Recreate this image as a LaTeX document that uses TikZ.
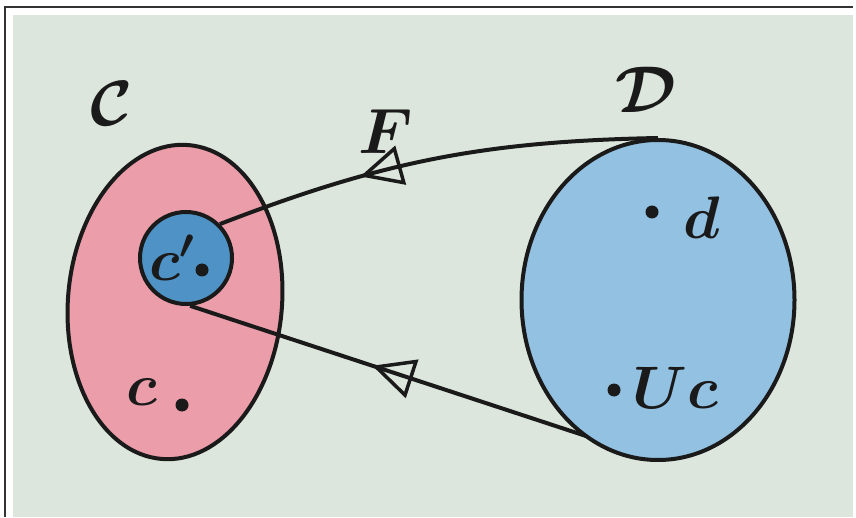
\RequirePackage{fix-cm}
\documentclass[tikz,border=0pt]{standalone}
\usepackage{amsmath}
\usepackage{amssymb}
\usepackage{tikz}
\usetikzlibrary{shapes.geometric, arrows.meta, positioning, decorations.markings, calc}
\definecolor{paper}{HTML}{DDE6DD}
\definecolor{ink}{HTML}{1A1A1A}
\definecolor{frameline}{HTML}{333333}
\definecolor{catpink}{HTML}{EB9DA9}
\definecolor{catblue}{HTML}{93C1E2}
\definecolor{objblue}{HTML}{4E92C6}
\tikzset{
  category/.style={
    ellipse, draw=ink, line width=4pt, inner sep=0pt,
  },
  object/.style={
    circle, draw=ink, line width=4pt, inner sep=0pt,
    minimum size=88pt, fill=objblue,
  },
  elem/.style={
    circle, fill=ink, inner sep=0pt, minimum size=13pt,
  },
  catlabel/.style={font=\fontsize{64}{70}\selectfont\boldmath, text=ink},
  elemlabel/.style={font=\fontsize{60}{66}\selectfont\boldmath, text=ink},
  functor/.style={
    line width=4pt, color=ink,
    decoration={markings,
      mark=at position #1 with {\arrow{Triangle[open, length=42pt, width=40pt, line width=3.5pt]}}},
    postaction={decorate},
  },
}

\begin{document}
\begin{tikzpicture}[x=1pt, y=-1pt]

  % Frame
  \fill[white] (0,0) rectangle (856,517);
  \fill[paper] (13,15) rectangle (853,517);
  \draw[frameline, line width=2pt] (5,517) -- (5,7) -- (853,7);

  % Category C
  \node[category, fill=catpink, minimum width=214pt, minimum height=315pt, rotate=-5] (catC) at (175,302) {};
  \node[catlabel] (labC) at (112,104) {$\mathcal{C}$};

  % Category D
  \node[category, fill=catblue, minimum width=273pt, minimum height=320pt] (catD) at (658,300) {};
  \node[catlabel, font=\fontsize{66}{72}\selectfont\boldmath] (labD) at (646,90) {$\mathcal{D}$};

  % Object c'
  \node[object, minimum width=84pt, minimum height=92pt] (objc) at (186,258) {};
  \node[elemlabel] (labcp) at (172,258) {$c'$};
  \node[elem] (dotcp) at (202,270) {};

  % Elements
  \node[elemlabel] (labc) at (142,392) {$c$};
  \node[elem] (dotc) at (182,405) {};
  \node[elem] (dotd) at (652,212) {};
  \node[elemlabel] (labd) at (702,218) {$d$};
  \node[elem] (dotUc) at (614,390) {};
  \node[elemlabel] (labUc) at (675,388) {$Uc$};

  % Functor F
  \coordinate (Dtop) at (catD.north);
  \coordinate (Dbot) at ($(catD.south)+(-72,-26)$);
  \node[catlabel] (labF) at (386,132) {$F$};

  % Arrows
  \draw[functor=0.67] (Dtop) to[bend right=10] (objc.45);
  \draw[functor=0.54] (Dbot) -- (objc.-85);

\end{tikzpicture}
\end{document}
